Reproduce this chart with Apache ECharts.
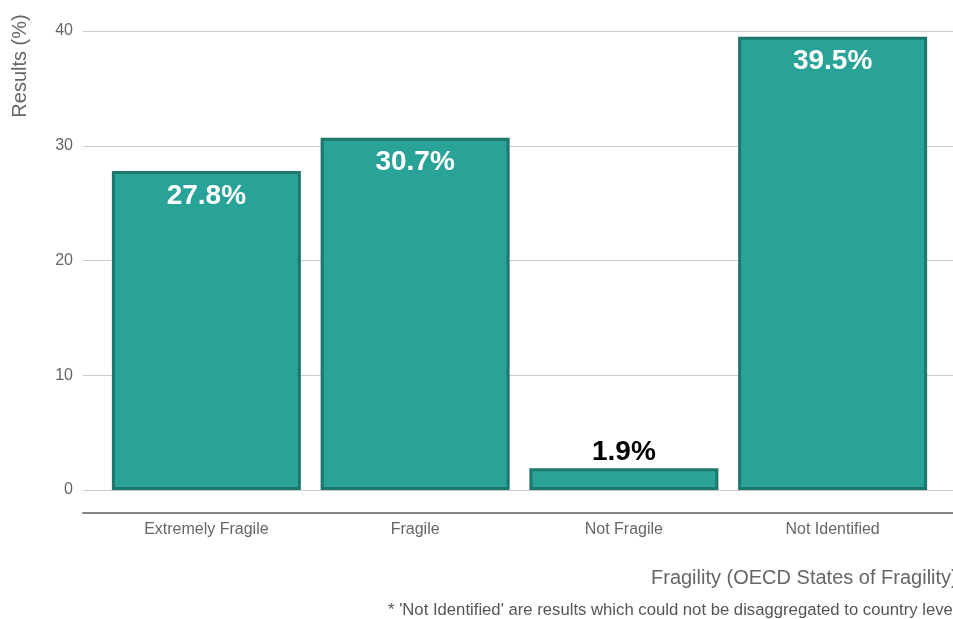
<!DOCTYPE html>
<html>
<head>
<meta charset="utf-8">
<script src="https://cdn.jsdelivr.net/npm/echarts@6/dist/echarts.min.js"></script>
<style>
html,body{margin:0;padding:0;background:#fff;}
#c{width:953px;height:619px;}
</style>
</head>
<body>
<div id="c"></div>
<script>
const categories = ['Extremely Fragile', 'Fragile', 'Not Fragile', 'Not Identified'];
const values = [27.8, 30.7, 1.9, 39.5];
const yTicks = [0, 10, 20, 30, 40];
const yAxisTitle = 'Results (%)';
const xAxisTitle = 'Fragility (OECD States of Fragility)';
const footnote = "* 'Not Identified' are results which could not be disaggregated to country level";

const FONT = 'Liberation Sans, Arial, Helvetica, sans-serif';
const chart = echarts.init(document.getElementById('c'), null, {renderer: 'canvas'});

const seriesData = values.map(v => {
  const item = {value: v};
  if (v < 5) {
    item.label = {position: 'top', color: '#000', distance: 2};
  }
  return item;
});

chart.setOption({
  animation: false,
  backgroundColor: '#fff',
  grid: [
    {left: 83, right: 0, top: 31, bottom: 129},
    {left: 102, right: 16, top: 31, bottom: 129}
  ],
  xAxis: [
    {
      gridIndex: 0, type: 'category', data: categories, offset: 23,
      axisLine: {show: true, onZero: false, lineStyle: {color: '#888', width: 2}},
      axisTick: {show: false}, axisLabel: {show: false}, splitLine: {show: false}
    },
    {
      gridIndex: 1, type: 'category', data: categories, offset: 23,
      axisLine: {show: false, onZero: false}, axisTick: {show: false},
      axisLabel: {color: '#666', fontSize: 16, fontFamily: FONT, margin: 9},
      splitLine: {show: false}
    }
  ],
  yAxis: [
    {
      gridIndex: 0, type: 'value', min: yTicks[0], max: yTicks[yTicks.length - 1], interval: 10,
      axisLine: {show: false}, axisTick: {show: false},
      axisLabel: {color: '#666', fontSize: 16, fontFamily: FONT, margin: 10, padding: [4, 0, 0, 0]},
      splitLine: {show: true, lineStyle: {color: '#cccccc', width: 1}}
    },
    {
      gridIndex: 1, type: 'value', min: yTicks[0], max: yTicks[yTicks.length - 1], interval: 10,
      show: false, splitLine: {show: false}
    }
  ],
  graphic: [
    {
      type: 'text', x: 20, y: 66, rotation: Math.PI / 2,
      style: {text: yAxisTitle, fill: '#666', font: '20px ' + FONT, textAlign: 'center', textVerticalAlign: 'middle'}
    },
    {
      type: 'text', x: 651, y: 578,
      style: {text: xAxisTitle, fill: '#666', font: '20px ' + FONT, textAlign: 'left', textVerticalAlign: 'middle'}
    },
    {
      type: 'text', x: 388, y: 610,
      style: {text: footnote, fill: '#555', font: '16.7px ' + FONT, textAlign: 'left', textVerticalAlign: 'middle'}
    }
  ],
  series: [{
    type: 'bar',
    xAxisIndex: 1, yAxisIndex: 1,
    data: seriesData,
    barWidth: 189,
    itemStyle: {color: '#29a397', borderColor: '#1e776c', borderWidth: 3},
    label: {
      show: true, position: 'insideTop', distance: 11,
      formatter: p => p.value + '%',
      color: '#fff', fontSize: 28, fontWeight: 'bold', fontFamily: FONT
    }
  }]
});
</script>
</body>
</html>
